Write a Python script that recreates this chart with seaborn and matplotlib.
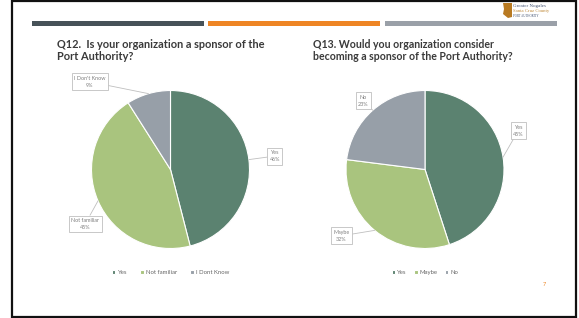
import numpy as np
import matplotlib.pyplot as plt
import seaborn as sns
from matplotlib.patches import Rectangle, Polygon

# data
q12_labels = ["Yes", "Not familiar", "I Don't Know"]
q12_legend = ["Yes", "Not familiar", "I Dont Know"]
q12_values = [46, 45, 9]

q13_labels = ["Yes", "Maybe", "No"]
q13_values = [45, 32, 23]

W, H = 579, 318
R = 79  # pie radius in px

sns.set_theme(style="white")
plt.rcParams["font.family"] = ["Lato", "DejaVu Sans"]

colors = ["#5b8270", "#a9c47e", "#979fa8"]


def fx(x):
    return x / W


def fy(y):
    return 1 - y / H


fig = plt.figure(figsize=(W / 100, H / 100), dpi=100)
fig.patch.set_facecolor("white")

# slide border
fig.add_artist(Rectangle((fx(11.5), fy(316.5)), fx(576 - 11.5), (316.5 - 0.8) / H,
                         transform=fig.transFigure, fill=False, edgecolor="#111111", linewidth=1.6))

# header bars
for x0, x1, c in [(32, 204, "#475258"), (208, 380, "#ee8524"), (385, 557, "#9aa0a8")]:
    fig.add_artist(Rectangle((fx(x0), fy(25.5)), fx(x1 - x0), 4.5 / H,
                             transform=fig.transFigure, color=c, linewidth=0))

# logo
fig.add_artist(Polygon([(fx(503), fy(3)), (fx(512), fy(3)), (fx(512), fy(17)), (fx(508), fy(18)),
                        (fx(503), fy(14)), (fx(504), fy(9))],
                       transform=fig.transFigure, color="#b87a22", linewidth=0))
fig.text(fx(513), fy(6.2), "Greater Nogales", fontsize=3.6, color="#3e4f6e",
         family="Liberation Serif", va="center")
fig.text(fx(513), fy(11.2), "Santa Cruz County", fontsize=3.4, color="#c08a3a",
         family="Liberation Serif", va="center")
fig.text(fx(513), fy(15.6), "PORT AUTHORITY", fontsize=2.2, color="#3e4f6e",
         family="Liberation Serif", va="center")

# titles
title_kw = dict(fontweight="bold", color="#3a3a3a", va="top", linespacing=1.2)
fig.text(fx(57), fy(38.5), "Q12.  Is your organization a sponsor of the\nPort Authority?",
         fontsize=7.9, **title_kw)
fig.text(fx(313), fy(38.5), "Q13. Would you organization consider\nbecoming a sponsor of the Port Authority?",
         fontsize=7.6, **title_kw)

# page number
fig.text(fx(544), fy(284), "7", fontsize=4, color="#ee8524", ha="center", va="center")


def draw_pie(cx, cy, values, labels, legend_labels, label_pos, colspace):
    half = 150
    ax = fig.add_axes([fx(cx - half), fy(cy + half), 2 * half / W, 2 * half / H])
    lim = half / R
    wedges, _ = ax.pie(values, colors=colors, startangle=90, counterclock=False, radius=1,
                       wedgeprops=dict(edgecolor="white", linewidth=0.8))
    ax.set_xlim(-lim, lim)
    ax.set_ylim(-lim, lim)
    ax.set_aspect("auto")
    ax.axis("off")

    total = sum(values)
    start = 90.0
    for v, lab, pos in zip(values, labels, label_pos):
        span = 360.0 * v / total
        mid = np.deg2rad(start - span / 2)
        start -= span
        edge = (np.cos(mid), np.sin(mid))
        ax.annotate(f"{lab}\n{v}%", xy=edge, xytext=pos, ha="center", va="center",
                    fontsize=3.9, color="#7f7f7f", linespacing=1.5,
                    bbox=dict(boxstyle="square,pad=0.45", fc="white", ec="#bfbfbf", lw=0.6),
                    arrowprops=dict(arrowstyle="-", color="#bfbfbf", lw=0.6,
                                    shrinkA=0, shrinkB=0))

    leg = ax.legend(wedges, legend_labels, loc="center",
                    bbox_to_anchor=(0.5, (half - 103) / (2 * half)),
                    ncol=3, frameon=False, fontsize=4.3, handlelength=0.6, handleheight=0.6,
                    handletextpad=0.35, columnspacing=colspace, borderaxespad=0)
    for t in leg.get_texts():
        t.set_color("#666666")


draw_pie(170.5, 169.5, q12_values, q12_labels, q12_legend,
         [(1.32, 0.17), (-1.08, -0.69), (-1.02, 1.11)], 2.2)
draw_pie(425, 169.5, q13_values, q13_labels, q13_labels,
         [(1.18, 0.49), (-1.06, -0.84), (-0.78, 0.87)], 1.2)

fig.savefig("out.png", dpi=100)
